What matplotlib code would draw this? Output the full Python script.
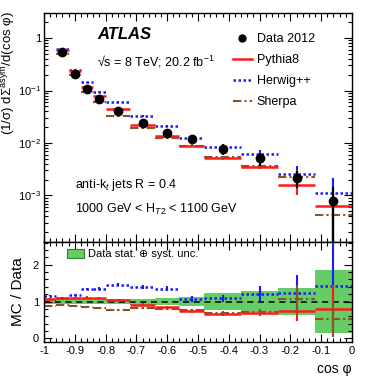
import numpy as np
import matplotlib
matplotlib.use('Agg')
import matplotlib.pyplot as plt
from matplotlib.lines import Line2D
from matplotlib.patches import Patch
from matplotlib.ticker import FixedLocator, MultipleLocator, LogLocator, NullFormatter

plt.rcParams['font.family'] = ['Liberation Sans', 'DejaVu Sans']
plt.rcParams['mathtext.fontset'] = 'custom'
plt.rcParams['mathtext.rm'] = 'Liberation Sans'
plt.rcParams['mathtext.it'] = 'Liberation Sans:italic'
plt.rcParams['mathtext.bf'] = 'Liberation Sans:bold'

# bin edges in cos(phi); the first bin only appears in the ratio panel
edges = [-1.0, -0.96, -0.92, -0.88, -0.84, -0.80, -0.72, -0.64, -0.56, -0.48, -0.36, -0.24, -0.12, 0.0]

# top panel (bins 2..13)
data_top = [0.55, 0.21, 0.105, 0.070, 0.041, 0.024, 0.0158, 0.0117, 0.0077, 0.0051, 0.0022, 0.00079]
pythia_top = [0.60, 0.235, 0.118, 0.079, 0.044, 0.0225, 0.0134, 0.0088, 0.0052, 0.0035, 0.0016, 0.00064]
herwig_top = [0.62, 0.25, 0.145, 0.095, 0.060, 0.033, 0.0215, 0.0124, 0.0083, 0.0063, 0.0026, 0.00113]
sherpa_top = [0.50, 0.195, 0.092, 0.061, 0.033, 0.0196, 0.0127, 0.0089, 0.0053, 0.0036, 0.0023, 0.00042]

# ratio panel (all 13 bins)
pythia_ratio = [1.07, 1.09, 1.10, 1.11, 1.09, 1.05, 0.92, 0.85, 0.74, 0.66, 0.68, 0.75, 0.80]
herwig_ratio = [1.16, 1.10, 1.18, 1.35, 1.35, 1.46, 1.39, 1.35, 1.07, 1.09, 1.21, 1.23, 1.42]
sherpa_ratio = [0.89, 0.91, 0.89, 0.86, 0.82, 0.78, 0.83, 0.80, 0.77, 0.68, 0.71, 1.07, 0.53]
band_err = [0.06, 0.06, 0.06, 0.06, 0.06, 0.07, 0.08, 0.10, 0.13, 0.22, 0.28, 0.36, 0.85]
pythia_stat = [0.02, 0.02, 0.02, 0.03, 0.03, 0.03, 0.03, 0.04, 0.04, 0.05, 0.07, 0.27, 0.64]
herwig_stat = [0.02, 0.02, 0.03, 0.03, 0.04, 0.05, 0.05, 0.06, 0.08, 0.10, 0.20, 0.50, 1.35]
sherpa_stat = [0.02, 0.02, 0.02, 0.03, 0.03, 0.03, 0.03, 0.04, 0.04, 0.05, 0.09, 0.37, 0.50]

xticks = [-1, -0.9, -0.8, -0.7, -0.6, -0.5, -0.4, -0.3, -0.2, -0.1, 0]
xticklabels = ['-1', '-0.9', '-0.8', '-0.7', '-0.6', '-0.5', '-0.4', '-0.3', '-0.2', '-0.1', '0']
yticks_top = [1e-3, 1e-2, 1e-1, 1]
yticklabels_top = ['10$^{-3}$', '10$^{-2}$', '10$^{-1}$', '1']

RED = '#ff1a1a'
BLUE = '#1a1aff'
BROWN = '#8a5523'
GREEN = '#66cc66'
blue_ls = (0, (1.0, 1.0))
brown_ls = (0, (4, 1.5, 1, 1.5))

edges = np.array(edges)
lo, hi = edges[:-1], edges[1:]
centers = 0.5 * (lo + hi)

fig = plt.figure(figsize=(3.71, 3.82), dpi=100)
ax = fig.add_axes([0.1186, 0.3665, 0.830, 0.5995])
ax2 = fig.add_axes([0.1186, 0.1047, 0.830, 0.2618])

# ---- top panel ----
t = slice(1, None)
dt = np.array(data_top)
ax.hlines(sherpa_top, lo[t], hi[t], color=BROWN, lw=1.5, linestyles=[brown_ls])
ax.hlines(herwig_top, lo[t], hi[t], color=BLUE, lw=1.8, linestyles=[blue_ls])
ax.hlines(pythia_top, lo[t], hi[t], color=RED, lw=1.8)
ax.errorbar(centers[t], herwig_top, yerr=np.array(herwig_stat[1:]) * dt, fmt='none', ecolor=BLUE, elinewidth=1.5)
ax.errorbar(centers[t], pythia_top, yerr=np.array(pythia_stat[1:]) * dt, fmt='none', ecolor=RED, elinewidth=1.5)
ax.errorbar(centers[t], sherpa_top, yerr=np.array(sherpa_stat[1:]) * dt, fmt='none', ecolor=BROWN, elinewidth=1.5)
ax.errorbar(centers[t], data_top, yerr=np.array(band_err[1:]) * dt, fmt='o', color='black',
            ms=6, elinewidth=1.6, capsize=0, zorder=5)

ax.set_yscale('log')
ax.set_xlim(-1, 0)
ax.set_ylim(1.3e-4, 3)
ax.yaxis.set_major_locator(FixedLocator(yticks_top))
ax.set_yticklabels(yticklabels_top)
ax.yaxis.set_minor_locator(LogLocator(base=10, subs=np.arange(2, 10)))
ax.yaxis.set_minor_formatter(NullFormatter())
ax.set_xticks(xticks)
ax.set_xticklabels([])
ax.xaxis.set_minor_locator(MultipleLocator(0.02))

ax.text(0.172, 0.905, 'ATLAS', transform=ax.transAxes, fontsize=12, fontweight='bold',
        fontstyle='italic', va='center')
ax.text(0.172, 0.786, '\u221as = 8 TeV; 20.2 fb$^{-1}$', transform=ax.transAxes, fontsize=9, va='center')
ax.text(0.10, 0.249, 'anti-k$_{t}$ jets R = 0.4', transform=ax.transAxes, fontsize=9, va='center')
ax.text(0.10, 0.14, '1000 GeV < H$_{T2}$ < 1100 GeV', transform=ax.transAxes, fontsize=9, va='center')

handles = [
    Line2D([], [], color='black', marker='o', ls='none', ms=5),
    Line2D([], [], color=RED, lw=1.8),
    Line2D([], [], color=BLUE, lw=1.8, ls=blue_ls),
    Line2D([], [], color=BROWN, lw=1.5, ls=brown_ls),
]
ax.legend(handles, ['Data 2012', 'Pythia8', 'Herwig++', 'Sherpa'], loc='upper left',
          bbox_to_anchor=(0.613, 0.912), frameon=False, fontsize=9, handlelength=1.5,
          handletextpad=0.4, labelspacing=0.72, borderpad=0, borderaxespad=0)

fig.text(0.024, 0.972, '(1/\u03c3) d\u03a3$^{\\mathrm{asym}}$/d(cos \u03c6)', rotation=90,
         fontsize=9.5, ha='center', va='top')

# ---- ratio panel ----
band_err = np.array(band_err)
ax2.bar(lo, 2 * band_err, bottom=1 - band_err, width=hi - lo, align='edge', color=GREEN, lw=0)
ax2.axhline(1, color='black', ls=(0, (4, 3)), lw=1.1)
ax2.hlines(sherpa_ratio, lo, hi, color=BROWN, lw=1.5, linestyles=[brown_ls])
ax2.hlines(herwig_ratio, lo, hi, color=BLUE, lw=1.8, linestyles=[blue_ls])
ax2.hlines(pythia_ratio, lo, hi, color=RED, lw=1.8)
ax2.errorbar(centers, herwig_ratio, yerr=herwig_stat, fmt='none', ecolor=BLUE, elinewidth=1.5)
ax2.errorbar(centers, pythia_ratio, yerr=pythia_stat, fmt='none', ecolor=RED, elinewidth=1.5)
ax2.errorbar(centers, sherpa_ratio, yerr=sherpa_stat, fmt='none', ecolor=BROWN, elinewidth=1.5)

ax2.set_xlim(-1, 0)
ax2.set_ylim(-0.1, 2.62)
ax2.set_xticks(xticks)
ax2.set_xticklabels(xticklabels)
ax2.xaxis.set_minor_locator(MultipleLocator(0.02))
ax2.set_yticks([0, 1, 2])
ax2.yaxis.set_minor_locator(MultipleLocator(0.2))
ax2.legend([Patch(facecolor=GREEN, edgecolor='#2f7f2f', lw=0.8)], ['Data stat. \u2295 syst. unc.'],
           loc='upper left', bbox_to_anchor=(0.075, 0.93), frameon=False, fontsize=8,
           handlelength=1.5, handleheight=0.9, handletextpad=0.4, borderpad=0, borderaxespad=0)
ax2.set_ylabel('MC / Data', fontsize=11)
ax2.yaxis.set_label_coords(-0.062, 0.5)
fig.text(0.949, 0.035, 'cos \u03c6', fontsize=10, ha='right', va='center')

for a in (ax, ax2):
    a.tick_params(which='both', direction='in', top=True, right=True, labelsize=8)
    a.tick_params(which='major', length=6, width=0.8)
    a.tick_params(which='minor', length=3, width=0.8)
    for s in a.spines.values():
        s.set_linewidth(1.0)
ax.tick_params(axis='y', pad=2)
ax2.tick_params(axis='x', pad=3)

fig.savefig('out.png', dpi=100)
